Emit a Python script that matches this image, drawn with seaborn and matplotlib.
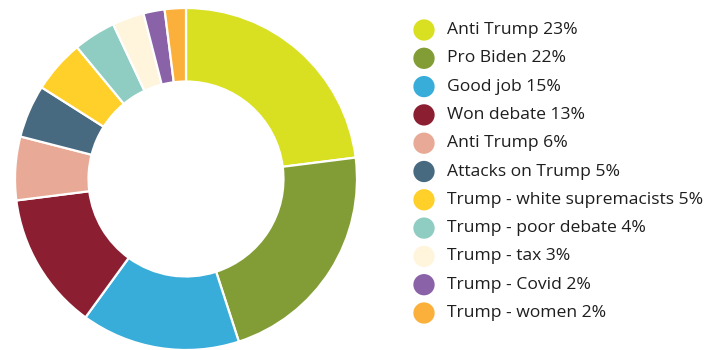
import matplotlib
matplotlib.use("Agg")
import matplotlib.pyplot as plt
import seaborn as sns

sns.set_theme(style="white")
plt.rcParams["font.family"] = ["Open Sans", "DejaVu Sans"]

labels = [
    "Anti Trump", "Pro Biden", "Good job", "Won debate", "Anti Trump",
    "Attacks on Trump", "Trump - white supremacists", "Trump - poor debate",
    "Trump - tax", "Trump - Covid", "Trump - women",
]
shares = [23, 22, 15, 13, 6, 5, 5, 4, 3, 2, 2]
colors = [
    "#D9E021", "#829D35", "#38ADD9", "#8C1E31", "#E8AA96", "#486A80",
    "#FFD02A", "#8FCDC2", "#FFF5DC", "#8A62A8", "#FBB03B",
]
palette = sns.color_palette(colors)

W, H = 709, 350
fig = plt.figure(figsize=(W / 100, H / 100), dpi=100)

# Donut
cx, cy, r = 186, 179, 171
ax = fig.add_axes([(cx - r) / W, (H - cy - r) / H, 2 * r / W, 2 * r / H])
ax.pie(
    shares, colors=palette, startangle=90, counterclock=False, radius=1.0,
    wedgeprops=dict(width=0.43, edgecolor="white", linewidth=1.6),
)
ax.set_xlim(-1, 1)
ax.set_ylim(-1, 1)
ax.set_aspect("equal")
ax.axis("off")

# Legend drawn in pixel coordinates
lax = fig.add_axes([0, 0, 1, 1])
lax.set_xlim(0, W)
lax.set_ylim(H, 0)
lax.axis("off")
y0, dy = 30, 28.3
for i, (lab, val, col) in enumerate(zip(labels, shares, palette)):
    y = y0 + i * dy
    lax.scatter([424], [y], s=235, color=col, edgecolors="none")
    lax.text(447, y, f"{lab} {val}%", va="center", ha="left",
             fontsize=12.6, color="#1e1e1e")

fig.savefig("out.png", dpi=100)
